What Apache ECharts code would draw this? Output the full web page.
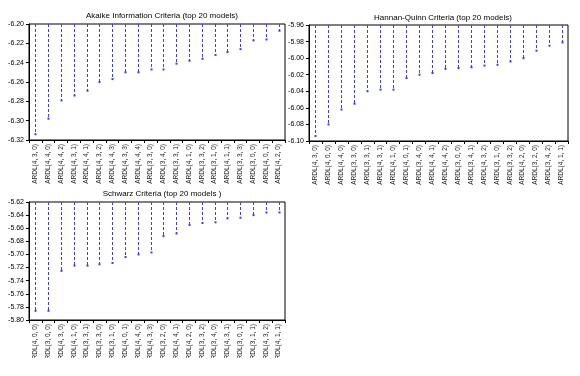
<!DOCTYPE html>
<html>
<head>
<meta charset="utf-8">
<script src="https://cdn.jsdelivr.net/npm/echarts@6/dist/echarts.min.js"></script>
<style>
  html, body { margin: 0; padding: 0; background: #fff; }
  #main { width: 580px; height: 376px; }
</style>
</head>
<body>
<div id="main"></div>
<script>
// model labels (best guess)
const aicModels = ['ARDL(4, 3, 0)', 'ARDL(4, 4, 0)', 'ARDL(4, 4, 2)', 'ARDL(4, 3, 1)', 'ARDL(4, 4, 1)',
  'ARDL(4, 3, 2)', 'ARDL(4, 4, 3)', 'ARDL(4, 3, 3)', 'ARDL(4, 4, 4)', 'ARDL(3, 3, 0)',
  'ARDL(3, 4, 0)', 'ARDL(3, 3, 1)', 'ARDL(4, 1, 0)', 'ARDL(3, 3, 2)', 'ARDL(3, 1, 0)',
  'ARDL(4, 1, 1)', 'ARDL(3, 3, 3)', 'ARDL(3, 0, 0)', 'ARDL(4, 0, 1)', 'ARDL(4, 2, 0)']
const aicValues = [-6.314, -6.298, -6.279, -6.274, -6.269, -6.260, -6.257, -6.250, -6.250, -6.247,
  -6.247, -6.241, -6.238, -6.236, -6.232, -6.229, -6.226, -6.217, -6.216, -6.207]

const hqModels = ['ARDL(4, 3, 0)', 'ARDL(4, 0, 0)', 'ARDL(4, 4, 0)', 'ARDL(3, 3, 0)', 'ARDL(3, 3, 1)',
  'ARDL(4, 3, 1)', 'ARDL(4, 1, 0)', 'ARDL(4, 0, 1)', 'ARDL(3, 4, 0)', 'ARDL(4, 4, 1)',
  'ARDL(4, 4, 2)', 'ARDL(3, 0, 0)', 'ARDL(3, 4, 1)', 'ARDL(4, 3, 2)', 'ARDL(3, 1, 0)',
  'ARDL(3, 3, 2)', 'ARDL(4, 2, 0)', 'ARDL(3, 2, 0)', 'ARDL(3, 4, 2)', 'ARDL(4, 1, 1)']
const hqValues = [-6.094, -6.080, -6.062, -6.055, -6.040, -6.038, -6.038, -6.024, -6.020, -6.018,
  -6.013, -6.012, -6.011, -6.009, -6.008, -6.004, -6.000, -5.991, -5.985, -5.981]

const scModels = ['ARDL(4, 0, 0)', 'ARDL(3, 0, 0)', 'ARDL(4, 3, 0)', 'ARDL(4, 1, 0)', 'ARDL(3, 3, 1)',
  'ARDL(3, 3, 0)', 'ARDL(3, 1, 0)', 'ARDL(4, 0, 1)', 'ARDL(4, 4, 0)', 'ARDL(4, 3, 3)',
  'ARDL(3, 2, 0)', 'ARDL(4, 4, 1)', 'ARDL(4, 2, 0)', 'ARDL(3, 3, 2)', 'ARDL(3, 4, 0)',
  'ARDL(4, 3, 1)', 'ARDL(3, 0, 1)', 'ARDL(3, 1, 1)', 'ARDL(4, 3, 2)', 'ARDL(4, 1, 1)']
const scValues = [-5.786, -5.786, -5.725, -5.717, -5.717, -5.715, -5.713, -5.704, -5.700, -5.697,
  -5.672, -5.668, -5.655, -5.652, -5.651, -5.645, -5.644, -5.640, -5.636, -5.636]

// axis ranges / tick step
const aicRange = [-6.32, -6.20]
const hqRange = [-6.10, -5.96]
const scRange = [-5.80, -5.62]
const tickStep = 0.02

const font = 'Liberation Sans, Arial, sans-serif'
const blue = '#3b3bff'

function dropLine(top) {
  // dashed line from the top of the plot down to the value, small dot at the end
  return function (params, api) {
    const p = api.coord([api.value(0), api.value(1)])
    const t = api.coord([api.value(0), top])
    const x = Math.round(p[0]) + 0.5
    return {
      type: 'group',
      children: [
        {
          type: 'line',
          shape: { x1: x, y1: t[1], x2: x, y2: p[1] },
          style: { stroke: blue, lineWidth: 1, lineDash: [3, 2] }
        },
        {
          type: 'rect',
          shape: { x: x - 1, y: p[1] - 1, width: 2, height: 2 },
          style: { fill: blue }
        }
      ]
    }
  }
}

function xAxis(idx, cats) {
  return {
    type: 'category',
    gridIndex: idx,
    data: cats,
    boundaryGap: true,
    axisLine: { lineStyle: { color: '#000', width: 1 } },
    axisTick: { show: true, length: 3, lineStyle: { color: '#000' } },
    axisLabel: { rotate: 90, fontSize: 6.5, color: '#222', fontFamily: font, margin: 4, interval: 0 },
    splitLine: { show: false }
  }
}

function yAxis(idx, range) {
  return {
    type: 'value',
    gridIndex: idx,
    min: range[0],
    max: range[1],
    interval: tickStep,
    axisLine: { show: true, lineStyle: { color: '#000', width: 1 } },
    axisTick: { show: true, length: 3, lineStyle: { color: '#000' } },
    axisLabel: {
      fontSize: 7, color: '#000', fontFamily: font, margin: 5,
      formatter: (v) => v.toFixed(2)
    },
    splitLine: { show: false }
  }
}

function series(idx, values, range) {
  return {
    type: 'custom',
    xAxisIndex: idx,
    yAxisIndex: idx,
    renderItem: dropLine(range[1]),
    encode: { x: 0, y: 1 },
    data: values.map((v, i) => [i, v]),
    clip: true
  }
}

const chart = echarts.init(document.getElementById('main'), null, { renderer: 'canvas' })
chart.setOption({
  backgroundColor: '#fff',
  animation: false,
  title: [
    { text: 'Akaike Information Criteria (top 20 models)', left: 157, top: 7, textAlign: 'center',
      textStyle: { fontSize: 8, fontWeight: 'normal', color: '#000', fontFamily: font } },
    { text: 'Hannan-Quinn Criteria (top 20 models)', left: 438, top: 9, textAlign: 'center',
      textStyle: { fontSize: 8, fontWeight: 'normal', color: '#000', fontFamily: font } },
    { text: 'Schwarz Criteria (top 20 models )', left: 157, top: 185, textAlign: 'center',
      textStyle: { fontSize: 8, fontWeight: 'normal', color: '#000', fontFamily: font } }
  ],
  grid: [
    { left: 29, top: 24, width: 256, height: 116, show: true, borderColor: '#000', borderWidth: 1, backgroundColor: '#fff' },
    { left: 309, top: 25, width: 259, height: 116, show: true, borderColor: '#000', borderWidth: 1, backgroundColor: '#fff' },
    { left: 29, top: 202, width: 256, height: 118, show: true, borderColor: '#000', borderWidth: 1, backgroundColor: '#fff' }
  ],
  xAxis: [xAxis(0, aicModels), xAxis(1, hqModels), xAxis(2, scModels)],
  yAxis: [yAxis(0, aicRange), yAxis(1, hqRange), yAxis(2, scRange)],
  series: [series(0, aicValues, aicRange), series(1, hqValues, hqRange), series(2, scValues, scRange)],
  graphic: [
    // the lower panel's labels are cut off in the original
    { type: 'rect', left: 0, top: 358, shape: { width: 300, height: 18 }, style: { fill: '#fff' }, z: 100 }
  ]
})
</script>
</body>
</html>
